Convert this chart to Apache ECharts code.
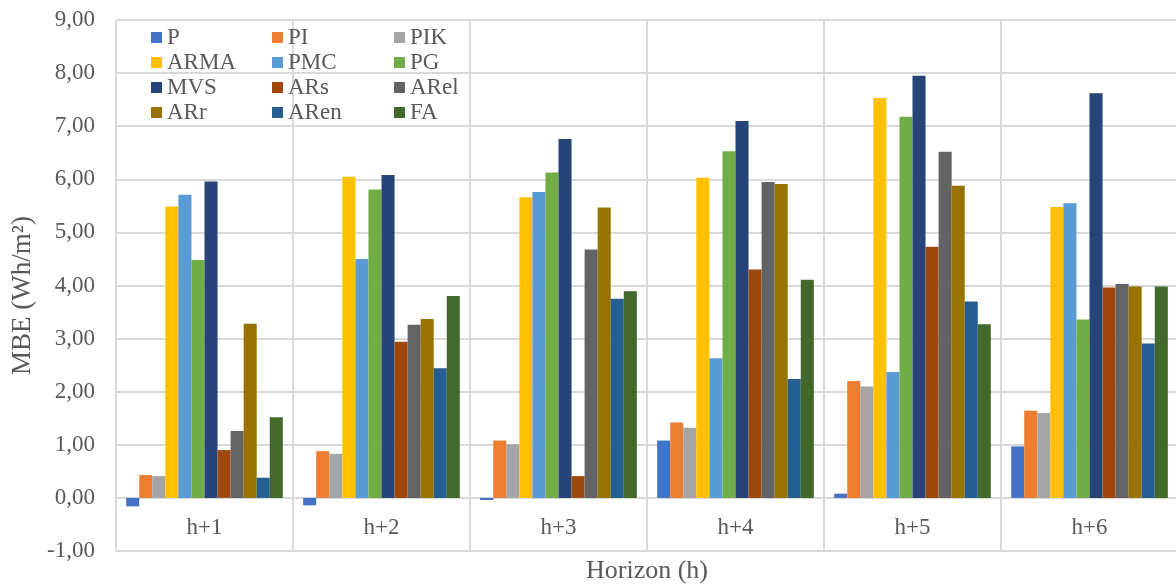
<!DOCTYPE html>
<html>
<head>
<meta charset="utf-8">
<script src="https://cdn.jsdelivr.net/npm/echarts@6/dist/echarts.min.js"></script>
<style>
html,body{margin:0;padding:0;background:#fff;}
#chart{width:1176px;height:585px;}
</style>
</head>
<body>
<div id="chart"></div>
<script>
const categories = ['h+1','h+2','h+3','h+4','h+5','h+6'];
const seriesNames = ['P','PI','PIK','ARMA','PMC','PG','MVS','ARs','ARel','ARr','ARen','FA'];
const colors = ['#4472C4','#ED7D31','#A5A5A5','#FFC000','#5B9BD5','#70AD47','#264478','#9E480E','#636363','#997300','#255E91','#43682B'];
const P    = [-0.16, -0.14, -0.04, 1.08, 0.08, 0.97];
const PI   = [0.43, 0.88, 1.08, 1.42, 2.20, 1.64];
const PIK  = [0.41, 0.83, 1.01, 1.32, 2.10, 1.60];
const ARMA = [5.49, 6.05, 5.66, 6.03, 7.53, 5.48];
const PMC  = [5.71, 4.50, 5.76, 2.63, 2.37, 5.55];
const PG   = [4.48, 5.81, 6.13, 6.53, 7.18, 3.36];
const MVS  = [5.96, 6.08, 6.76, 7.10, 7.95, 7.62];
const ARs  = [0.90, 2.94, 0.41, 4.30, 4.73, 3.96];
const ARel = [1.26, 3.26, 4.68, 5.95, 6.52, 4.03];
const ARr  = [3.28, 3.37, 5.47, 5.91, 5.88, 3.98];
const ARen = [0.38, 2.44, 3.75, 2.24, 3.70, 2.91];
const FA   = [1.52, 3.80, 3.89, 4.11, 3.27, 3.98];
const allValues = [P, PI, PIK, ARMA, PMC, PG, MVS, ARs, ARel, ARr, ARen, FA];
const yMin = -1, yMax = 9, yStep = 1;

const font = 'Liberation Serif, Times New Roman, serif';
const txt = '#595959';
const gridColor = '#D9D9D9';

const legendCols = [
  {left: 151, names: ['P','ARMA','MVS','ARr']},
  {left: 272, names: ['PI','PMC','ARs','ARen']},
  {left: 394, names: ['PIK','PG','ARel','FA']}
];

const chart = echarts.init(document.getElementById('chart'), null, {renderer: 'canvas'});
chart.setOption({
  animation: false,
  backgroundColor: '#fff',
  grid: {left: 116, right: -2, top: 20, bottom: 34, containLabel: false, outerBoundsMode: 'none'},
  legend: legendCols.map(c => ({
    orient: 'vertical', left: c.left, top: 25,
    itemWidth: 11, itemHeight: 11, itemGap: 0,
    icon: 'rect',
    data: c.names,
    textStyle: {fontFamily: font, fontSize: 23, color: txt, lineHeight: 25, padding: [0,0,0,0]},
    padding: 0
  })),
  xAxis: {
    type: 'category',
    data: categories,
    name: 'Horizon (h)',
    nameLocation: 'middle',
    nameGap: 7,
    nameMoveOverlap: false,
    nameTextStyle: {fontFamily: font, fontSize: 26, color: txt},
    axisLine: {show: true, onZero: true, lineStyle: {color: gridColor, width: 2}},
    axisTick: {show: false},
    axisLabel: {fontFamily: font, fontSize: 23, color: txt, margin: -35},
    splitLine: {show: true, lineStyle: {color: gridColor, width: 2}}
  },
  yAxis: {
    type: 'value',
    min: yMin, max: yMax, interval: yStep,
    name: 'MBE (Wh/m²)',
    nameLocation: 'middle',
    nameGap: 78,
    nameRotate: 90,
    nameTextStyle: {fontFamily: font, fontSize: 27, color: txt, padding: [0, 20, 0, 0]},
    axisLine: {show: false},
    axisTick: {show: false},
    axisLabel: {fontFamily: font, fontSize: 23, color: txt, margin: 21,
      formatter: v => v.toFixed(2).replace('.', ',')},
    splitLine: {show: true, lineStyle: {color: gridColor, width: 2}}
  },
  series: seriesNames.map((n, i) => ({
    name: n,
    type: 'bar',
    data: allValues[i],
    barGap: '0%',
    barCategoryGap: '11.5%',
    itemStyle: {color: colors[i]}
  }))
});
</script>
</body>
</html>
